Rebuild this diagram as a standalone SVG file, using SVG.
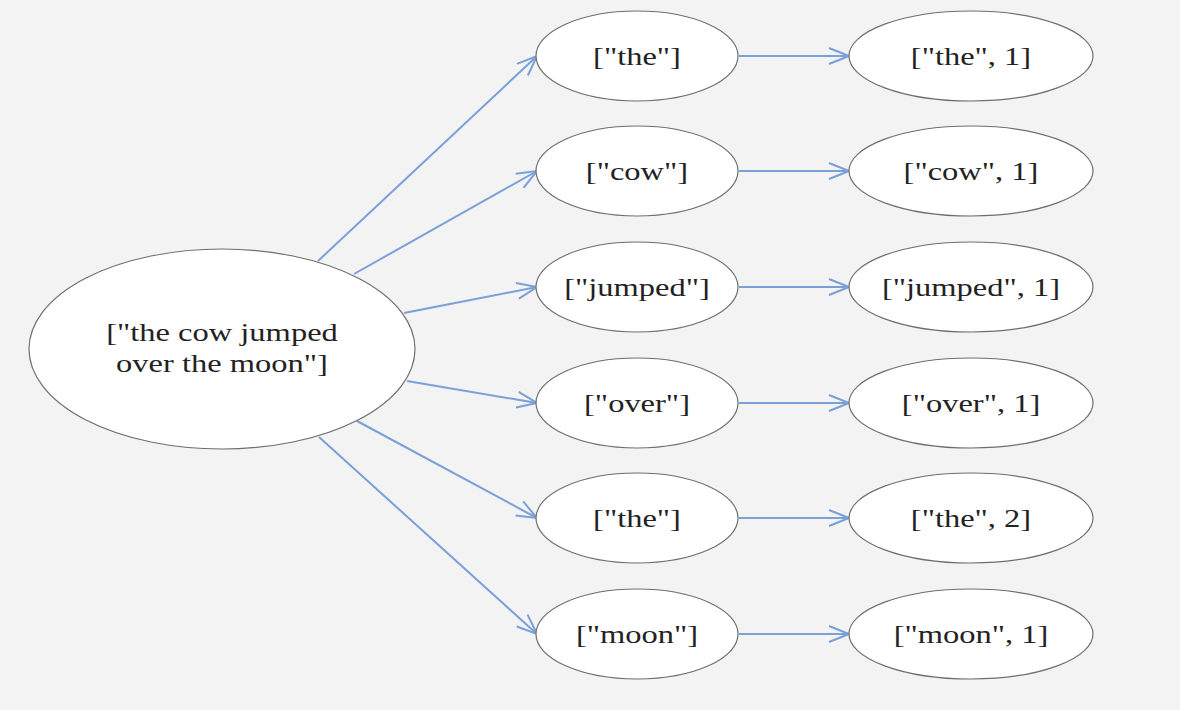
<svg xmlns="http://www.w3.org/2000/svg" width="1180" height="710" viewBox="0 0 1180 710">
<style>
.n{fill:#ffffff;stroke:#6e6e6e;stroke-width:1.2}
.t{font-family:'Liberation Serif','DejaVu Serif',serif;font-size:25px;fill:#222;text-anchor:middle}
.e{stroke:#7aa0d8;stroke-width:2;fill:none;marker-end:url(#a)}
</style>
<defs>
<marker id="a" viewBox="0 0 22 18" refX="21" refY="9" markerWidth="22" markerHeight="18" markerUnits="userSpaceOnUse" orient="auto">
<path d="M1,1 L21,9 L1,17" fill="none" stroke="#7aa0d8" stroke-width="2"/>
</marker>
</defs>
<rect width="1180" height="710" fill="#f3f3f3"/>
<g id="connectors">
<line class="e" x1="318" y1="261" x2="537" y2="56"/>
<line class="e" x1="354" y1="274" x2="537" y2="171"/>
<line class="e" x1="404" y1="313" x2="537" y2="287"/>
<line class="e" x1="407" y1="381" x2="537" y2="403"/>
<line class="e" x1="357" y1="421" x2="537" y2="518"/>
<line class="e" x1="319" y1="437" x2="537" y2="634"/>
<line class="e" x1="739" y1="56" x2="849" y2="56"/>
<line class="e" x1="739" y1="171" x2="849" y2="171"/>
<line class="e" x1="739" y1="287" x2="849" y2="287"/>
<line class="e" x1="739" y1="403" x2="849" y2="403"/>
<line class="e" x1="739" y1="518" x2="849" y2="518"/>
<line class="e" x1="739" y1="634" x2="849" y2="634"/>
</g>
<g id="input">
<ellipse class="n" cx="222" cy="349" rx="193" ry="100"/>
<text class="t" transform="translate(222,341) scale(1.3,1)" font-size="26">["the cow jumped</text>
<text class="t" transform="translate(222,372) scale(1.3,1)" font-size="26">over the moon"]</text>
</g>
<g id="m1"><ellipse class="n" cx="637" cy="56" rx="101" ry="45"/><text class="t" transform="translate(637,65) scale(1.3,1)">["the"]</text></g>
<g id="m2"><ellipse class="n" cx="637" cy="171" rx="101" ry="45"/><text class="t" transform="translate(637,180) scale(1.3,1)">["cow"]</text></g>
<g id="m3"><ellipse class="n" cx="637" cy="287" rx="101" ry="45"/><text class="t" transform="translate(637,296) scale(1.3,1)">["jumped"]</text></g>
<g id="m4"><ellipse class="n" cx="637" cy="403" rx="101" ry="45"/><text class="t" transform="translate(637,412) scale(1.3,1)">["over"]</text></g>
<g id="m5"><ellipse class="n" cx="637" cy="518" rx="101" ry="45"/><text class="t" transform="translate(637,527) scale(1.3,1)">["the"]</text></g>
<g id="m6"><ellipse class="n" cx="637" cy="634" rx="101" ry="45"/><text class="t" transform="translate(637,643) scale(1.3,1)">["moon"]</text></g>
<g id="r1"><ellipse class="n" cx="971" cy="56" rx="122" ry="45"/><text class="t" transform="translate(971,65) scale(1.3,1)">["the", 1]</text></g>
<g id="r2"><ellipse class="n" cx="971" cy="171" rx="122" ry="45"/><text class="t" transform="translate(971,180) scale(1.3,1)">["cow", 1]</text></g>
<g id="r3"><ellipse class="n" cx="971" cy="287" rx="122" ry="45"/><text class="t" transform="translate(971,296) scale(1.3,1)">["jumped", 1]</text></g>
<g id="r4"><ellipse class="n" cx="971" cy="403" rx="122" ry="45"/><text class="t" transform="translate(971,412) scale(1.3,1)">["over", 1]</text></g>
<g id="r5"><ellipse class="n" cx="971" cy="518" rx="122" ry="45"/><text class="t" transform="translate(971,527) scale(1.3,1)">["the", 2]</text></g>
<g id="r6"><ellipse class="n" cx="971" cy="634" rx="122" ry="45"/><text class="t" transform="translate(971,643) scale(1.3,1)">["moon", 1]</text></g>
</svg>
